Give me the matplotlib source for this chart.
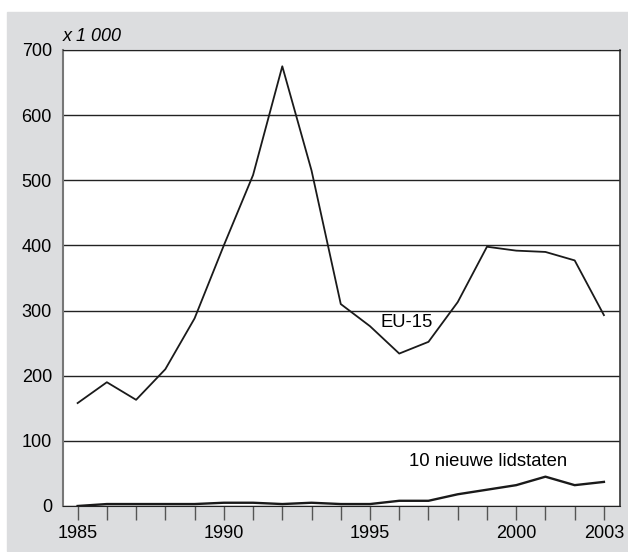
import matplotlib.pyplot as plt
from matplotlib.patches import Rectangle

plt.rcParams['font.family'] = ['Liberation Sans', 'DejaVu Sans']

jaren = list(range(1985, 2004))
eu15 = [158, 190, 163, 210, 288, 400, 508, 675, 515, 310, 276, 234, 252, 313, 398, 392, 390, 377, 293]
nieuw10 = [0, 3, 3, 3, 3, 5, 5, 3, 5, 3, 3, 8, 8, 18, 25, 32, 45, 32, 37]
label_jaren = [1985, 1990, 1995, 2000, 2003]

W, H = 628, 552
fig = plt.figure(figsize=(W / 100, H / 100), dpi=100)
achtergrond = Rectangle((7 / W, 1 - 551 / H), 621 / W, 539 / H,
                        transform=fig.transFigure, color='#dcdddf', zorder=-10)
fig.add_artist(achtergrond)

ax = fig.add_axes([63 / W, 1 - 506 / H, 557 / W, 456 / H])
ax.set_zorder(1)
ax.plot(jaren, eu15, color='#1a1a1a', lw=1.3, zorder=3)
ax.plot(jaren, nieuw10, color='#1a1a1a', lw=1.7, zorder=3)

ax.set_xlim(1984.5, 2003.55)
ax.set_ylim(0, 700)
ax.set_yticks(range(0, 701, 100))
ax.yaxis.grid(True, color='#222222', lw=1)
ax.set_axisbelow(True)
ax.tick_params(axis='y', length=0, pad=8, labelsize=13)

ax.set_xticks(jaren)
ax.set_xticklabels([str(j) if j in label_jaren else '' for j in jaren])
ax.tick_params(axis='x', direction='out', length=10, width=1, color='#555555',
               pad=4, labelsize=13)

ax.spines['left'].set_color('#777777')
ax.spines['left'].set_linewidth(1.5)
ax.spines['bottom'].set_color('#222222')
ax.spines['right'].set_color('#333333')
ax.spines['right'].set_linewidth(1.2)
ax.spines['top'].set_color('#222222')

ax.text(0, 1.012, 'x 1 000', transform=ax.transAxes, fontsize=13,
        style='italic', ha='left', va='bottom')
ax.text(1996.25, 281, 'EU-15', fontsize=13.3, ha='center', va='center')
ax.text(1999.05, 69, '10 nieuwe lidstaten', fontsize=13.3, ha='center', va='center')

fig.savefig('out.png', dpi=100)
